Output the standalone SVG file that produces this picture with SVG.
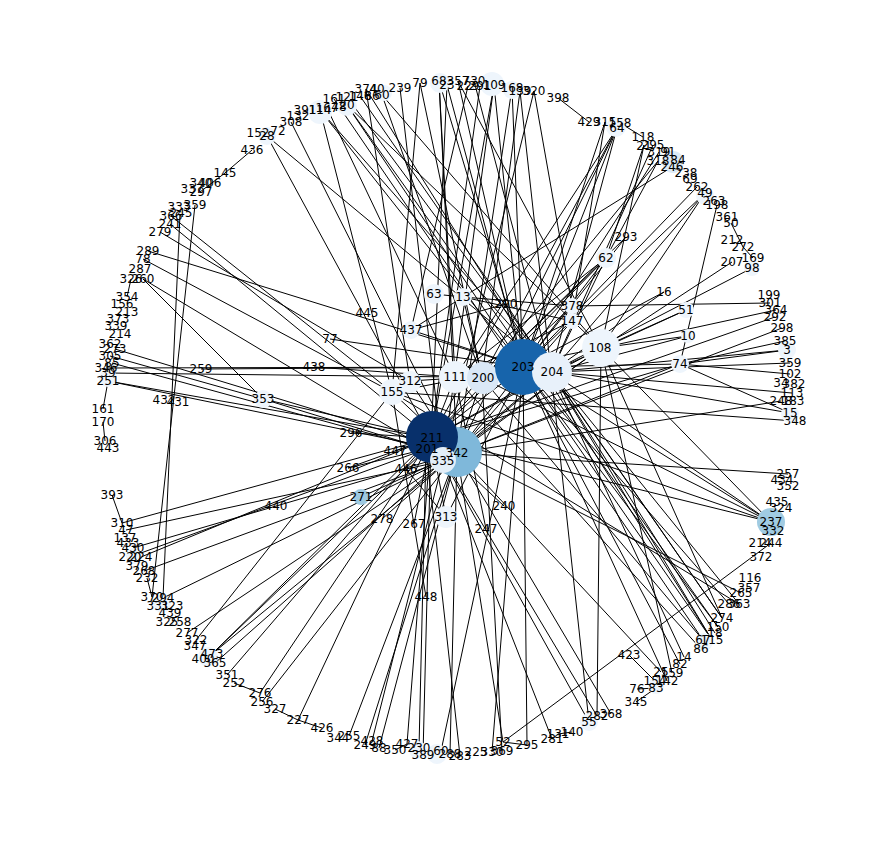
<svg xmlns="http://www.w3.org/2000/svg" width="877" height="850" viewBox="0 0 877 850">
<style>
text{font-family:"DejaVu Sans","Liberation Sans",sans-serif;font-size:12px;text-anchor:middle;dominant-baseline:central;fill:#000}
#edges line{stroke:#000;stroke-width:1}
.f{fill:#eef5fc}
.f2{fill:#dceaf6}
</style>
<rect width="877" height="850" fill="#fff"/>
<g id="edges">
<line x1="252" y1="150" x2="225" y2="173"/><line x1="225" y1="173" x2="200" y2="192"/>
<line x1="267" y1="136" x2="431" y2="438"/><line x1="267" y1="136" x2="551" y2="372"/>
<line x1="291" y1="122" x2="457" y2="453"/>
<line x1="320" y1="110" x2="392" y2="392"/><line x1="320" y1="110" x2="523" y2="367"/><line x1="320" y1="110" x2="551" y2="372"/>
<line x1="327" y1="108" x2="455" y2="377"/>
<line x1="347" y1="105" x2="523" y2="367"/><line x1="347" y1="105" x2="601" y2="348"/><line x1="347" y1="105" x2="718" y2="627"/>
<line x1="366" y1="89" x2="410" y2="381"/><line x1="366" y1="89" x2="712" y2="640"/>
<line x1="382" y1="95" x2="482" y2="378"/><line x1="382" y1="95" x2="601" y2="348"/>
<line x1="360" y1="96" x2="722" y2="618"/><line x1="334" y1="99" x2="703" y2="640"/>
<line x1="347" y1="97" x2="551" y2="372"/>
<line x1="400" y1="88" x2="443" y2="461"/>
<line x1="420" y1="83" x2="392" y2="392"/><line x1="420" y1="83" x2="482" y2="378"/>
<line x1="439" y1="81" x2="455" y2="377"/><line x1="439" y1="81" x2="506" y2="304"/><line x1="439" y1="81" x2="457" y2="453"/>
<line x1="447" y1="85" x2="523" y2="367"/><line x1="447" y1="85" x2="431" y2="438"/>
<line x1="458" y1="81" x2="523" y2="367"/><line x1="458" y1="81" x2="601" y2="348"/>
<line x1="474" y1="81" x2="551" y2="372"/>
<line x1="468" y1="86" x2="411" y2="330"/><line x1="480" y1="86" x2="431" y2="438"/>
<line x1="494" y1="85" x2="431" y2="438"/><line x1="494" y1="85" x2="523" y2="367"/><line x1="494" y1="85" x2="443" y2="461"/>
<line x1="512" y1="88" x2="523" y2="367"/><line x1="512" y1="88" x2="457" y2="453"/>
<line x1="520" y1="91" x2="551" y2="372"/><line x1="520" y1="91" x2="482" y2="378"/>
<line x1="534" y1="91" x2="572" y2="306"/><line x1="534" y1="91" x2="443" y2="461"/>
<line x1="558" y1="98" x2="589" y2="122"/>
<line x1="605" y1="122" x2="523" y2="367"/><line x1="605" y1="122" x2="572" y2="321"/>
<line x1="620" y1="123" x2="643" y2="137"/>
<line x1="617" y1="128" x2="455" y2="377"/><line x1="617" y1="128" x2="482" y2="378"/><line x1="617" y1="128" x2="551" y2="372"/><line x1="617" y1="128" x2="523" y2="367"/><line x1="617" y1="128" x2="457" y2="453"/>
<line x1="644" y1="145" x2="606" y2="258"/><line x1="644" y1="145" x2="601" y2="348"/>
<line x1="653" y1="145" x2="551" y2="372"/>
<line x1="659" y1="152" x2="523" y2="367"/>
<line x1="658" y1="161" x2="606" y2="258"/><line x1="658" y1="161" x2="431" y2="438"/>
<line x1="672" y1="167" x2="463" y2="297"/>
<line x1="697" y1="187" x2="523" y2="367"/>
<line x1="705" y1="193" x2="523" y2="367"/><line x1="705" y1="193" x2="551" y2="372"/><line x1="705" y1="193" x2="601" y2="348"/>
<line x1="717" y1="205" x2="680" y2="364"/>
<line x1="731" y1="223" x2="743" y2="247"/><line x1="743" y1="247" x2="753" y2="258"/>
<line x1="732" y1="262" x2="601" y2="348"/><line x1="752" y1="268" x2="551" y2="372"/>
<line x1="664" y1="292" x2="551" y2="372"/><line x1="664" y1="292" x2="523" y2="367"/>
<line x1="686" y1="310" x2="601" y2="348"/><line x1="686" y1="310" x2="551" y2="372"/>
<line x1="688" y1="336" x2="601" y2="348"/><line x1="688" y1="336" x2="551" y2="372"/>
<line x1="572" y1="306" x2="770" y2="303"/>
<line x1="776" y1="310" x2="601" y2="348"/><line x1="775" y1="317" x2="431" y2="438"/><line x1="782" y1="328" x2="457" y2="453"/>
<line x1="785" y1="341" x2="680" y2="364"/><line x1="787" y1="350" x2="680" y2="364"/><line x1="787" y1="350" x2="551" y2="372"/>
<line x1="790" y1="363" x2="551" y2="372"/>
<line x1="790" y1="413" x2="523" y2="367"/><line x1="790" y1="413" x2="680" y2="364"/>
<line x1="781" y1="401" x2="457" y2="453"/><line x1="795" y1="421" x2="392" y2="392"/>
<line x1="792" y1="393" x2="551" y2="372"/><line x1="790" y1="374" x2="680" y2="364"/>
<line x1="788" y1="474" x2="457" y2="453"/>
<line x1="771" y1="522" x2="523" y2="367"/><line x1="771" y1="522" x2="551" y2="372"/><line x1="771" y1="522" x2="482" y2="378"/><line x1="771" y1="522" x2="431" y2="438"/><line x1="771" y1="522" x2="601" y2="348"/><line x1="771" y1="522" x2="392" y2="392"/>
<line x1="741" y1="593" x2="431" y2="438"/>
<line x1="729" y1="604" x2="523" y2="367"/><line x1="739" y1="604" x2="551" y2="372"/><line x1="739" y1="604" x2="392" y2="392"/>
<line x1="722" y1="618" x2="601" y2="348"/><line x1="722" y1="618" x2="551" y2="372"/>
<line x1="718" y1="627" x2="523" y2="367"/><line x1="715" y1="633" x2="551" y2="372"/>
<line x1="703" y1="640" x2="482" y2="378"/>
<line x1="712" y1="640" x2="523" y2="367"/><line x1="712" y1="640" x2="551" y2="372"/>
<line x1="701" y1="649" x2="455" y2="377"/><line x1="684" y1="657" x2="551" y2="372"/><line x1="680" y1="664" x2="523" y2="367"/>
<line x1="661" y1="672" x2="457" y2="453"/><line x1="672" y1="673" x2="601" y2="348"/>
<line x1="655" y1="681" x2="629" y2="655"/><line x1="667" y1="681" x2="523" y2="367"/>
<line x1="637" y1="689" x2="656" y2="688"/><line x1="636" y1="702" x2="656" y2="688"/>
<line x1="611" y1="714" x2="457" y2="453"/>
<line x1="597" y1="716" x2="601" y2="348"/><line x1="597" y1="716" x2="431" y2="438"/>
<line x1="589" y1="722" x2="551" y2="372"/><line x1="589" y1="722" x2="431" y2="438"/>
<line x1="558" y1="734" x2="572" y2="732"/><line x1="552" y1="739" x2="443" y2="461"/><line x1="552" y1="739" x2="558" y2="734"/>
<line x1="527" y1="745" x2="523" y2="367"/>
<line x1="503" y1="742" x2="771" y2="543"/><line x1="503" y1="742" x2="457" y2="453"/><line x1="503" y1="742" x2="527" y2="745"/>
<line x1="502" y1="751" x2="482" y2="378"/><line x1="492" y1="752" x2="523" y2="367"/>
<line x1="460" y1="756" x2="426" y2="449"/><line x1="450" y1="754" x2="457" y2="453"/><line x1="441" y1="751" x2="523" y2="367"/>
<line x1="423" y1="755" x2="431" y2="438"/><line x1="419" y1="748" x2="426" y2="449"/><line x1="407" y1="744" x2="431" y2="438"/>
<line x1="395" y1="750" x2="407" y2="744"/><line x1="379" y1="748" x2="457" y2="453"/><line x1="372" y1="741" x2="443" y2="461"/>
<line x1="365" y1="745" x2="457" y2="453"/><line x1="349" y1="736" x2="457" y2="453"/>
<line x1="322" y1="728" x2="298" y2="720"/><line x1="298" y1="720" x2="431" y2="438"/><line x1="275" y1="709" x2="298" y2="720"/>
<line x1="262" y1="702" x2="457" y2="453"/><line x1="260" y1="693" x2="431" y2="438"/><line x1="234" y1="683" x2="260" y2="693"/>
<line x1="227" y1="675" x2="431" y2="438"/><line x1="215" y1="663" x2="443" y2="461"/>
<line x1="212" y1="654" x2="431" y2="438"/><line x1="212" y1="654" x2="426" y2="449"/><line x1="212" y1="654" x2="457" y2="453"/>
<line x1="196" y1="640" x2="392" y2="392"/><line x1="187" y1="633" x2="457" y2="453"/>
<line x1="163" y1="598" x2="443" y2="461"/>
<line x1="195" y1="205" x2="152" y2="597"/><line x1="180" y1="214" x2="163" y2="598"/>
<line x1="147" y1="578" x2="152" y2="597"/>
<line x1="144" y1="571" x2="443" y2="461"/>
<line x1="141" y1="557" x2="431" y2="438"/><line x1="130" y1="557" x2="426" y2="449"/><line x1="133" y1="548" x2="457" y2="453"/>
<line x1="126" y1="530" x2="443" y2="461"/><line x1="122" y1="523" x2="431" y2="438"/>
<line x1="112" y1="495" x2="122" y2="523"/>
<line x1="103" y1="409" x2="108" y2="381"/><line x1="103" y1="422" x2="105" y2="441"/>
<line x1="108" y1="381" x2="431" y2="438"/><line x1="108" y1="381" x2="457" y2="453"/>
<line x1="108" y1="373" x2="455" y2="377"/><line x1="106" y1="368" x2="523" y2="367"/>
<line x1="112" y1="363" x2="426" y2="449"/><line x1="110" y1="356" x2="263" y2="399"/><line x1="115" y1="349" x2="457" y2="453"/>
<line x1="201" y1="369" x2="523" y2="367"/>
<line x1="148" y1="251" x2="523" y2="367"/><line x1="143" y1="259" x2="392" y2="392"/>
<line x1="143" y1="279" x2="263" y2="399"/><line x1="143" y1="279" x2="426" y2="449"/>
<line x1="160" y1="232" x2="410" y2="381"/><line x1="170" y1="224" x2="431" y2="438"/><line x1="171" y1="216" x2="392" y2="392"/>
<line x1="131" y1="279" x2="127" y2="297"/>
<line x1="263" y1="399" x2="431" y2="438"/><line x1="263" y1="399" x2="426" y2="449"/>
<line x1="314" y1="367" x2="455" y2="377"/><line x1="330" y1="339" x2="523" y2="367"/>
<line x1="411" y1="330" x2="463" y2="297"/><line x1="411" y1="330" x2="506" y2="304"/><line x1="411" y1="330" x2="523" y2="367"/>
<line x1="434" y1="294" x2="463" y2="297"/>
<line x1="463" y1="297" x2="572" y2="321"/><line x1="463" y1="297" x2="572" y2="306"/><line x1="463" y1="297" x2="482" y2="378"/>
<line x1="506" y1="304" x2="431" y2="438"/><line x1="506" y1="304" x2="551" y2="372"/>
<line x1="606" y1="258" x2="523" y2="367"/><line x1="606" y1="258" x2="551" y2="372"/><line x1="606" y1="258" x2="455" y2="377"/><line x1="606" y1="258" x2="482" y2="378"/><line x1="606" y1="258" x2="431" y2="438"/>
<line x1="626" y1="237" x2="523" y2="367"/><line x1="626" y1="237" x2="482" y2="378"/>
<line x1="572" y1="306" x2="431" y2="438"/><line x1="572" y1="321" x2="457" y2="453"/><line x1="572" y1="321" x2="455" y2="377"/>
<line x1="601" y1="348" x2="431" y2="438"/><line x1="601" y1="348" x2="457" y2="453"/><line x1="601" y1="348" x2="443" y2="461"/><line x1="601" y1="348" x2="455" y2="377"/>
<line x1="680" y1="364" x2="457" y2="453"/><line x1="680" y1="364" x2="431" y2="438"/><line x1="680" y1="364" x2="523" y2="367"/>
<line x1="523" y1="367" x2="431" y2="438"/><line x1="523" y1="367" x2="457" y2="453"/>
<line x1="551" y1="372" x2="431" y2="438"/><line x1="551" y1="372" x2="457" y2="453"/><line x1="551" y1="372" x2="443" y2="461"/>
<line x1="455" y1="377" x2="431" y2="438"/><line x1="482" y1="378" x2="457" y2="453"/>
<line x1="392" y1="392" x2="523" y2="367"/><line x1="410" y1="381" x2="551" y2="372"/><line x1="410" y1="381" x2="457" y2="453"/><line x1="392" y1="392" x2="457" y2="453"/>
<line x1="351" y1="433" x2="431" y2="438"/><line x1="395" y1="451" x2="431" y2="438"/><line x1="406" y1="469" x2="446" y2="517"/>
<line x1="348" y1="468" x2="431" y2="438"/><line x1="348" y1="468" x2="426" y2="449"/>
<line x1="382" y1="519" x2="457" y2="453"/><line x1="414" y1="524" x2="431" y2="438"/>
<line x1="446" y1="517" x2="523" y2="367"/><line x1="446" y1="517" x2="431" y2="438"/>
<line x1="504" y1="506" x2="431" y2="438"/><line x1="486" y1="529" x2="455" y2="377"/>
<line x1="426" y1="597" x2="392" y2="392"/><line x1="361" y1="497" x2="457" y2="453"/>
</g>
<g id="nodes">
<g id="n342"><circle cx="457" cy="452" r="25" fill="#7fb8da"/></g>
<g id="n211"><circle cx="432" cy="437" r="26" fill="#08306b"/></g>
<g id="n201"><circle cx="427" cy="448" r="3" fill="#08306b"/></g>
<g id="n335"><circle cx="443" cy="460" r="13" fill="#e3eef8"/></g>
<g id="n111"><circle cx="455" cy="377" r="16" class="f"/></g>
<g id="n200"><circle cx="483" cy="378" r="16" fill="#dae8f6"/></g>
<g id="n203"><circle cx="523" cy="367" r="28" fill="#1764ab"/></g>
<g id="n204"><circle cx="552" cy="372" r="20" fill="#e8f1fa"/></g>
<g id="n108"><circle cx="601" cy="348" r="19" class="f"/></g>
<g id="n237"><circle cx="771" cy="522" r="14" fill="#a0cbe2"/></g>
<g id="n271"><circle cx="361" cy="497" r="8" fill="#9dc9e1"/></g>
<g id="n155"><circle cx="392" cy="392" r="13" class="f"/></g>
<g id="n312"><circle cx="410" cy="382" r="11" class="f"/></g>
<g id="n313"><circle cx="446" cy="517" r="11" class="f"/></g>
<g id="n62"><circle cx="606" cy="258" r="10" class="f"/></g>
<g id="n74"><circle cx="680" cy="364" r="9" class="f"/></g>
<g id="n437"><circle cx="411" cy="330" r="9" class="f"/></g>
<g id="n13"><circle cx="463" cy="297" r="9" class="f"/></g>
<g id="n63"><circle cx="434" cy="294" r="10" class="f"/></g>
<g id="n378"><circle cx="572" cy="306" r="8" class="f"/></g>
<g id="n147"><circle cx="572" cy="321" r="8" class="f"/></g>
<g id="n353"><circle cx="263" cy="399" r="9" class="f"/></g>
<g id="n51"><circle cx="686" cy="310" r="8" class="f"/></g>
<g id="n10"><circle cx="688" cy="336" r="7" class="f"/></g>
<g id="n251"><circle cx="108" cy="378" r="9" class="f"/></g>
<g id="n220"><circle cx="134" cy="556" r="8" class="f"/></g>
<g id="n294"><circle cx="162" cy="604" r="9" class="f"/></g>
<g id="n473"><circle cx="208" cy="657" r="10" class="f"/></g>
<g id="n230"><circle cx="418" cy="750" r="9" class="f"/></g>
<g id="n60b"><circle cx="437" cy="754" r="10" class="f"/></g>
<g id="n55"><circle cx="589" cy="722" r="9" class="f"/></g>
<g id="n83"><circle cx="656" cy="686" r="8" class="f"/></g>
<g id="n67"><circle cx="704" cy="642" r="9" class="f"/></g>
<g id="n15"><circle cx="790" cy="414" r="9" class="f"/></g>
<g id="n3"><circle cx="787" cy="350" r="9" class="f"/></g>
<g id="n98"><circle cx="752" cy="268" r="8" class="f"/></g>
<g id="n49"><circle cx="705" cy="196" r="9" class="f"/></g>
<g id="n84"><circle cx="673" cy="162" r="11" class="f2"/></g>
<g id="n64"><circle cx="616" cy="127" r="10" class="f"/></g>
<g id="n168"><circle cx="512" cy="90" r="9" class="f"/></g>
<g id="n109"><circle cx="492" cy="84" r="12" class="f"/></g>
<g id="n68"><circle cx="440" cy="83" r="10" class="f"/></g>
<g id="n60t"><circle cx="384" cy="93" r="8" class="f"/></g>
<g id="n20"><circle cx="347" cy="106" r="10" class="f"/></g>
<g id="n114"><circle cx="320" cy="112" r="12" class="f"/></g>
<g id="n28"><circle cx="267" cy="136" r="9" class="f"/></g>
</g>
<g id="labels">
<text x="457" y="453">342</text><text x="432" y="438">211</text><text x="427" y="449">201</text><text x="443" y="461">335</text>
<text x="455" y="377">111</text><text x="483" y="378">200</text><text x="523" y="367">203</text><text x="552" y="372">204</text>
<text x="600" y="348">108</text><text x="771" y="522">237</text><text x="361" y="497">271</text><text x="392" y="392">155</text>
<text x="410" y="381">312</text><text x="446" y="517">313</text><text x="606" y="258">62</text><text x="680" y="364">74</text>
<text x="411" y="330">437</text><text x="463" y="297">13</text><text x="434" y="294">63</text><text x="572" y="306">378</text>
<text x="572" y="321">147</text><text x="263" y="399">353</text><text x="506" y="304">290</text><text x="664" y="292">16</text>
<text x="686" y="310">51</text><text x="688" y="336">10</text><text x="626" y="237">293</text><text x="367" y="313">445</text>
<text x="330" y="339">77</text><text x="314" y="367">438</text><text x="201" y="369">259</text><text x="351" y="433">296</text>
<text x="395" y="451">447</text><text x="406" y="469">446</text><text x="348" y="468">266</text><text x="276" y="506">440</text>
<text x="382" y="519">278</text><text x="414" y="524">267</text><text x="504" y="506">240</text><text x="486" y="529">247</text>
<text x="426" y="597">448</text><text x="629" y="655">423</text><text x="164" y="400">432</text><text x="178" y="402">431</text>
<text x="252" y="150">436</text><text x="225" y="173">145</text><text x="201" y="183">340</text><text x="210" y="183">406</text>
<text x="192" y="189">337</text><text x="201" y="192">297</text><text x="179" y="207">333</text><text x="195" y="205">359</text>
<text x="181" y="213">245</text><text x="171" y="216">366</text><text x="170" y="224">241</text><text x="160" y="232">279</text>
<text x="148" y="251">289</text><text x="143" y="259">78</text><text x="140" y="269">287</text><text x="131" y="279">326</text>
<text x="143" y="279">260</text><text x="127" y="297">354</text><text x="122" y="304">156</text><text x="127" y="312">213</text>
<text x="118" y="319">373</text><text x="116" y="326">339</text><text x="120" y="334">214</text><text x="110" y="344">362</text>
<text x="115" y="349">273</text><text x="110" y="356">305</text><text x="112" y="363">85</text><text x="106" y="368">346</text>
<text x="108" y="373">39</text><text x="108" y="381">251</text><text x="103" y="409">161</text><text x="103" y="422">170</text>
<text x="105" y="441">306</text><text x="108" y="448">443</text><text x="112" y="495">393</text><text x="122" y="523">310</text>
<text x="126" y="530">47</text><text x="125" y="538">137</text><text x="128" y="543">433</text><text x="133" y="548">430</text>
<text x="130" y="557">220</text><text x="141" y="557">224</text><text x="137" y="566">379</text><text x="144" y="571">268</text>
<text x="147" y="578">232</text><text x="152" y="597">370</text><text x="163" y="598">294</text><text x="158" y="606">331</text>
<text x="172" y="606">323</text><text x="170" y="613">439</text><text x="167" y="622">325</text><text x="180" y="622">258</text>
<text x="187" y="633">277</text><text x="196" y="640">322</text><text x="195" y="646">347</text><text x="212" y="654">473</text>
<text x="203" y="659">400</text><text x="215" y="663">365</text><text x="227" y="675">351</text><text x="234" y="683">252</text>
<text x="260" y="693">276</text><text x="262" y="702">256</text><text x="275" y="709">327</text><text x="298" y="720">227</text>
<text x="322" y="728">426</text><text x="338" y="738">344</text><text x="349" y="736">255</text><text x="365" y="745">249</text>
<text x="372" y="741">428</text><text x="379" y="748">88</text><text x="395" y="750">350</text><text x="407" y="744">427</text>
<text x="419" y="748">230</text><text x="423" y="755">389</text><text x="441" y="751">60</text><text x="450" y="754">288</text>
<text x="460" y="756">283</text><text x="476" y="752">225</text><text x="492" y="752">330</text><text x="502" y="751">369</text>
<text x="503" y="742">52</text><text x="527" y="745">295</text><text x="552" y="739">281</text><text x="558" y="734">131</text>
<text x="572" y="732">140</text><text x="589" y="722">55</text><text x="597" y="716">282</text><text x="611" y="714">368</text>
<text x="636" y="702">345</text><text x="637" y="689">76</text><text x="656" y="688">83</text><text x="655" y="681">154</text>
<text x="667" y="681">142</text><text x="661" y="672">25</text><text x="672" y="673">159</text><text x="680" y="664">82</text>
<text x="684" y="657">14</text><text x="701" y="649">86</text><text x="703" y="640">67</text><text x="712" y="640">115</text>
<text x="715" y="633">18</text><text x="718" y="627">150</text><text x="722" y="618">274</text><text x="729" y="604">286</text>
<text x="739" y="604">363</text><text x="741" y="593">265</text><text x="749" y="588">357</text><text x="750" y="578">116</text>
<text x="761" y="557">372</text><text x="760" y="543">214</text><text x="771" y="543">244</text><text x="773" y="531">332</text>
<text x="781" y="508">324</text><text x="777" y="502">435</text><text x="788" y="486">352</text><text x="782" y="480">434</text>
<text x="788" y="474">257</text><text x="795" y="421">348</text><text x="790" y="413">15</text><text x="781" y="401">248</text>
<text x="793" y="401">183</text><text x="792" y="393">113</text><text x="781" y="383">34</text><text x="794" y="384">382</text>
<text x="790" y="374">102</text><text x="790" y="363">359</text><text x="787" y="350">3</text><text x="785" y="341">385</text>
<text x="782" y="328">298</text><text x="775" y="317">292</text><text x="776" y="310">364</text><text x="770" y="303">301</text>
<text x="769" y="295">199</text><text x="752" y="268">98</text><text x="732" y="262">207</text><text x="753" y="258">169</text>
<text x="743" y="247">272</text><text x="732" y="240">212</text><text x="731" y="223">50</text><text x="727" y="217">361</text>
<text x="717" y="205">198</text><text x="714" y="201">263</text><text x="705" y="193">49</text><text x="697" y="187">262</text>
<text x="690" y="179">69</text><text x="686" y="173">238</text><text x="678" y="160">84</text><text x="672" y="167">246</text>
<text x="658" y="161">318</text><text x="659" y="152">319</text><text x="668" y="152">91</text><text x="644" y="146">21</text>
<text x="653" y="145">295</text><text x="643" y="137">118</text><text x="617" y="128">64</text><text x="620" y="123">158</text>
<text x="605" y="122">315</text><text x="589" y="122">429</text><text x="558" y="98">398</text><text x="534" y="91">320</text>
<text x="520" y="91">139</text><text x="512" y="88">168</text><text x="494" y="85">109</text><text x="480" y="86">291</text>
<text x="468" y="86">229</text><text x="474" y="81">730</text><text x="458" y="81">357</text><text x="447" y="85">23</text>
<text x="439" y="81">68</text><text x="420" y="83">79</text><text x="400" y="88">239</text><text x="382" y="95">60</text>
<text x="377" y="89">40</text><text x="366" y="89">374</text><text x="372" y="96">86</text><text x="360" y="96">146</text>
<text x="347" y="97">121</text><text x="334" y="99">161</text><text x="347" y="105">20</text><text x="339" y="107">48</text>
<text x="327" y="108">167</text><text x="320" y="110">114</text><text x="305" y="110">391</text><text x="298" y="116">132</text>
<text x="291" y="122">308</text><text x="278" y="131">72</text><text x="267" y="136">28</text><text x="258" y="133">152</text>
</g>
</svg>
